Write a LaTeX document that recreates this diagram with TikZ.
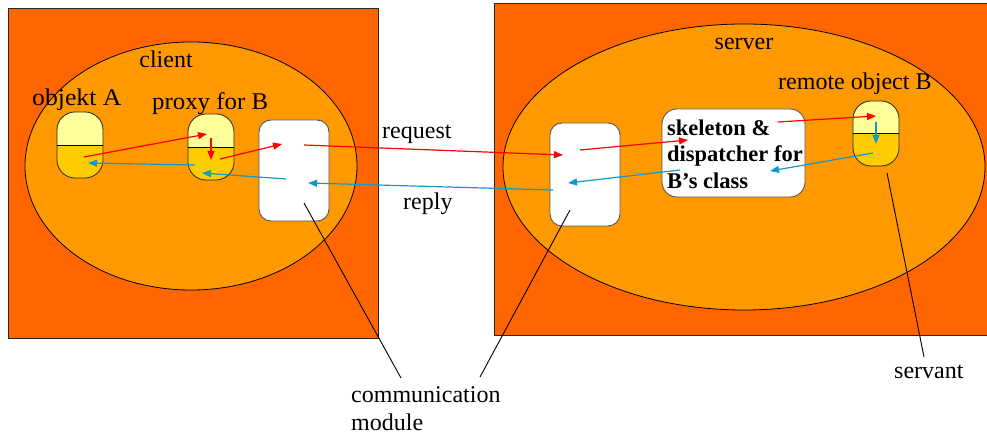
\documentclass[tikz,border=0pt]{standalone}
\usepackage{fontspec}
\setmainfont{Liberation Serif}
\usetikzlibrary{arrows.meta}
\definecolor{sqcol}{HTML}{FF6600}
\definecolor{ellcol}{HTML}{FF9900}
\definecolor{capT}{HTML}{FFFF99}
\definecolor{capB}{HTML}{FFCC00}
\definecolor{blucol}{HTML}{1199CC}
\definecolor{redcol}{HTML}{FF0000}
\definecolor{boxgray}{HTML}{555555}
\begin{document}
\begin{tikzpicture}[x=1pt,y=-1pt,
  lbl/.style={font=\fontsize{24}{29}\selectfont, inner sep=0pt},
  sqbox/.style={draw=black!85, fill=sqcol, line width=0.9pt, inner sep=0pt},
  modbox/.style={draw=boxgray, fill=white, rounded corners=12pt, inner sep=0pt, line width=0.9pt},
  capsule/.style={draw=black!85, fill=capT, rounded corners=18pt, minimum width=46pt, minimum height=66pt, inner sep=0pt, line width=0.8pt,
     path picture={\fill[capB, sharp corners] (path picture bounding box.west) rectangle (path picture bounding box.south east);}},
  reqarr/.style={draw=redcol, -{Triangle[length=9pt,width=7pt]}, line width=1.2pt},
  reparr/.style={draw=blucol, -{Triangle[length=9pt,width=7pt]}, line width=1.2pt},
  note/.style={draw=black, line width=0.9pt}
]
\useasboundingbox (0,0) rectangle (987,435);
\clip (0,0) rectangle (987,435);

% outer boxes
\node[sqbox, minimum width=370pt, minimum height=330pt] (clientsq) at (193,173) {};
\node[sqbox, minimum width=510pt, minimum height=332pt] (serversq) at (749,169) {};

% ellipses
\draw[fill=ellcol, line width=0.8pt] (191,166) ellipse [x radius=166pt, y radius=124pt];
\draw[fill=ellcol, line width=0.8pt] (744,167) ellipse [x radius=241pt, y radius=143pt];

% labels
\node[lbl, anchor=base] (client) at (166,68) {client};
\node[lbl, anchor=base] (server) at (744,50) {server};
\node[lbl, anchor=base west] (objAlbl) at (32,106) {\scalebox{1.07}[1]{objekt A}};
\node[lbl, anchor=base west] (proxylbl) at (152,110) {\scalebox{1.035}[1]{proxy for B}};
\node[lbl, anchor=base west] (remlbl) at (778,90) {remote object B};
\node[lbl, anchor=base west] (reqlbl) at (382,139) {request};
\node[lbl, anchor=base west] (replbl) at (403,210) {reply};
\node[lbl, anchor=base west] (comm1) at (351,402) {communication};
\node[lbl, anchor=base west] (comm2) at (351,430) {module};
\node[lbl, anchor=base west] (servlbl) at (894,378) {servant};

% capsules
\node[capsule] (objA) at (80,145) {};
\draw[line width=0.8pt] (objA.west) -- (objA.east);
\node[capsule] (proxy) at (211,147) {};
\draw[line width=0.8pt] (proxy.west) -- (proxy.east);
\node[capsule, minimum height=65pt] (remB) at (876,133.5) {};
\draw[line width=0.8pt] (remB.west) -- (remB.east);

% modules
\node[modbox, minimum width=70pt, minimum height=101pt] (commL) at (294,170.5) {};
\node[modbox, minimum width=70pt, minimum height=103pt] (commR) at (585,174.5) {};
\node[modbox, rounded corners=15pt, minimum width=143pt, minimum height=88pt] (skel) at (733.5,153) {};
\node[anchor=north west, align=left, inner sep=0pt, font=\bfseries\fontsize{22.5}{26.5}\selectfont] (skeltxt) at (667,119.5) {skeleton \&\\dispatcher for\\B’s class};

% arrow end points
\coordinate (a1) at (84,157);   \coordinate (a2) at (207,134);
\coordinate (a3) at (211,138);  \coordinate (a4) at (211,160);
\coordinate (a5) at (220,159);  \coordinate (a6) at (282,144);
\coordinate (a7) at (304,145);  \coordinate (a8) at (563,155);
\coordinate (a9) at (580,150);  \coordinate (a10) at (688,140);
\coordinate (a11) at (778,122); \coordinate (a12) at (876,116);
\coordinate (b1) at (876,122);  \coordinate (b2) at (876,144);
\coordinate (b3) at (873,153);  \coordinate (b4) at (770,171);
\coordinate (b5) at (680,170);  \coordinate (b6) at (568,183);
\coordinate (b7) at (553,190);  \coordinate (b8) at (308,183);
\coordinate (b9) at (286,179);  \coordinate (b10) at (202,173);
\coordinate (b11) at (195,165); \coordinate (b12) at (88,163);

\draw[reqarr] (a1) -- (a2);
\draw[reqarr] (a3) -- (a4);
\draw[reqarr] (a5) -- (a6);
\draw[reqarr] (a7) -- (a8);
\draw[reqarr] (a9) -- (a10);
\draw[reqarr] (a11) -- (a12);
\draw[reparr] (b1) -- (b2);
\draw[reparr] (b3) -- (b4);
\draw[reparr] (b5) -- (b6);
\draw[reparr] (b7) -- (b8);
\draw[reparr] (b9) -- (b10);
\draw[reparr] (b11) -- (b12);

% annotation lines
\coordinate (n1) at (304,203); \coordinate (n2) at (401,378);
\coordinate (n3) at (570,210); \coordinate (n4) at (480,377);
\coordinate (n5) at (887,173); \coordinate (n6) at (924,357);
\draw[note] (n1) -- (n2);
\draw[note] (n3) -- (n4);
\draw[note] (n5) -- (n6);
\end{tikzpicture}
\end{document}
